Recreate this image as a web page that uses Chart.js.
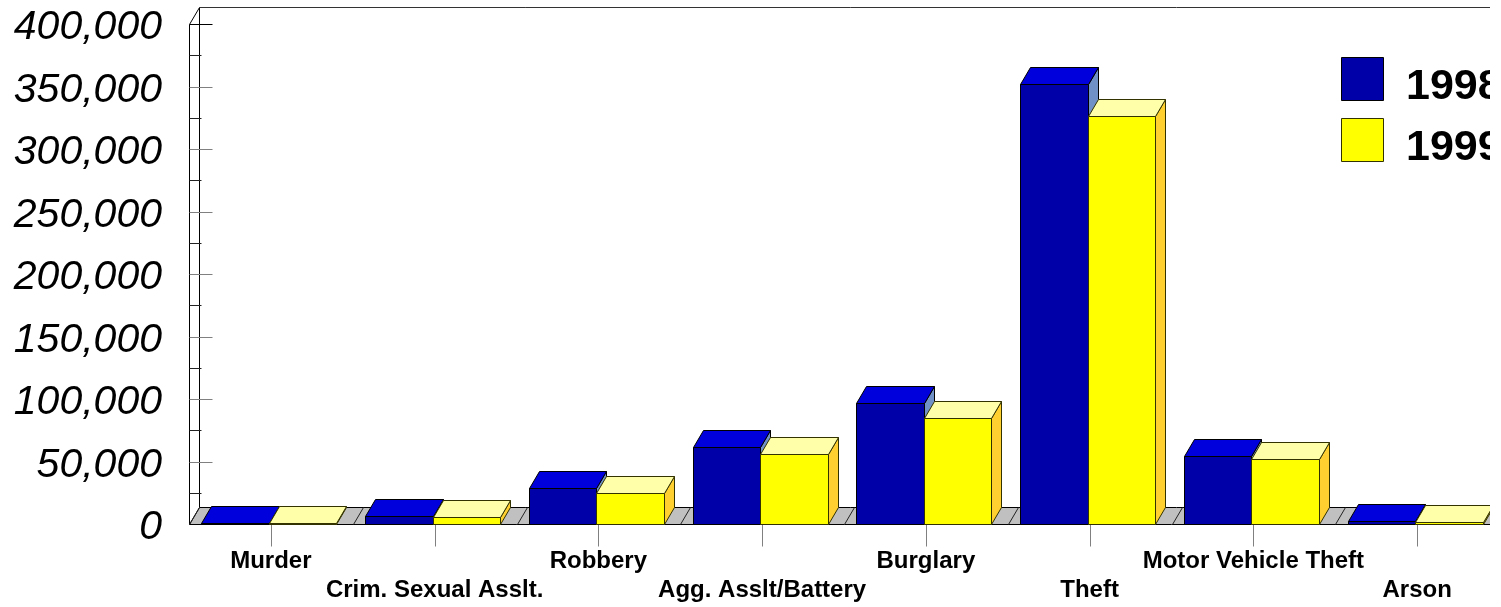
<!DOCTYPE html>
<html>
<head>
<meta charset="utf-8">
<script src="https://cdn.jsdelivr.net/npm/chart.js@4.4.0/dist/chart.umd.min.js"></script>
<style>
  html, body { margin: 0; padding: 0; background: #fff; }
  #wrap { width: 1490px; height: 607px; overflow: hidden; }
  canvas { display: block; }
</style>
</head>
<body>
<div id="wrap"><canvas id="crimeChart" width="1501" height="607"></canvas></div>
<script>
// data
const categories = ['Murder', 'Crim. Sexual Asslt.', 'Robbery', 'Agg. Asslt/Battery', 'Burglary', 'Theft', 'Motor Vehicle Theft', 'Arson'];
const years = ['1998', '1999'];
const values1998 = [1000, 6300, 28600, 61900, 96500, 352000, 54400, 2600];
const values1999 = [900, 5600, 25000, 56000, 84500, 326700, 52000, 1800];
const yTicks = [0, 50000, 100000, 150000, 200000, 250000, 300000, 350000, 400000];

const FONT = '"Liberation Sans", Arial, sans-serif';
const DX = 10, DY = 17;   // depth of the fake 3d
const SHIFT = -2;         // bars sit a little left of the tick marks

const faces = [
  { front: '#0000A8', top: '#0000DD', side: '#7090C8', edge: '#000000' },
  { front: '#FFFF00', top: '#FFFFAA', side: '#FFD030', edge: '#333300' }
];

function poly(ctx, pts, fill, stroke) {
  ctx.beginPath();
  ctx.moveTo(pts[0][0], pts[0][1]);
  for (let i = 1; i < pts.length; i++) ctx.lineTo(pts[i][0], pts[i][1]);
  ctx.closePath();
  if (fill) { ctx.fillStyle = fill; ctx.fill(); }
  if (stroke) { ctx.strokeStyle = stroke; ctx.stroke(); }
}

function line(ctx, x1, y1, x2, y2, color) {
  ctx.beginPath();
  ctx.moveTo(x1, y1);
  ctx.lineTo(x2, y2);
  ctx.strokeStyle = color;
  ctx.stroke();
}

const box3d = {
  id: 'box3d',
  afterDatasetsDraw(chart) {
    const ctx = chart.ctx;
    const { left, right, top } = chart.chartArea;
    const xs = chart.scales.x, ys = chart.scales.y;
    const base = Math.round(ys.getPixelForValue(0)) + 0.5;
    const L = Math.round(left) + 0.5;
    const T = Math.round(top) + 0.5;
    ctx.save();
    ctx.lineWidth = 1;

    // wall
    line(ctx, L, T, L, base, '#000');
    line(ctx, L + DX, T - DY, L + DX, base - DY, '#000');
    line(ctx, L, T, L + DX, T - DY, '#000');
    line(ctx, L + DX, T - DY, right + DX, T - DY, '#333');

    // y ticks, major + minor
    for (let i = 1; i < yTicks.length; i++) {
      const y = Math.round(ys.getPixelForValue(yTicks[i])) + 0.5;
      line(ctx, L, y, L + 23, y, i === yTicks.length - 1 ? '#000' : '#808080');
      const ym = Math.round(ys.getPixelForValue((yTicks[i] + yTicks[i - 1]) / 2)) + 0.5;
      line(ctx, L, ym, L + 12, ym, '#222');
    }

    // floor
    poly(ctx, [[L, base], [right, base], [right + DX, base - DY], [L + DX, base - DY]], '#C0C0C0', '#000');
    const step = (right - left) / categories.length;
    for (let k = 0; k <= categories.length; k++) {
      const x = Math.round(left + k * step) + 0.5;
      line(ctx, x, base, x + DX, base - DY, '#222');
    }

    // x ticks
    categories.forEach((c, i) => {
      const x = Math.round(xs.getPixelForValue(i)) + 0.5;
      line(ctx, x, base, x, base + 22, '#808080');
    });

    // bars, per category so the 1999 box hides the side of the 1998 one
    categories.forEach((c, i) => {
      chart.data.datasets.forEach((ds, d) => {
        const el = chart.getDatasetMeta(d).data[i];
        const f = faces[d];
        const x0 = Math.round(el.x - el.width / 2 + SHIFT) + 0.5;
        const x1 = Math.round(el.x + el.width / 2 + SHIFT) + 0.5;
        const y0 = Math.round(el.y) + 0.5;
        poly(ctx, [[x1, y0], [x1 + DX, y0 - DY], [x1 + DX, base - DY], [x1, base]], f.side, f.edge);
        poly(ctx, [[x0, y0], [x1, y0], [x1 + DX, y0 - DY], [x0 + DX, y0 - DY]], f.top, f.edge);
        poly(ctx, [[x0, y0], [x1, y0], [x1, base], [x0, base]], f.front, f.edge);
      });
    });

    // legend
    ctx.font = 'bold 43px ' + FONT;
    ctx.textBaseline = 'alphabetic';
    ctx.textAlign = 'left';
    const legendY = [57, 118];
    years.forEach((yr, d) => {
      poly(ctx, [[1341.5, legendY[d] + 0.5], [1383.5, legendY[d] + 0.5], [1383.5, legendY[d] + 43.5], [1341.5, legendY[d] + 43.5]], faces[d].front, faces[d].edge);
      ctx.fillStyle = '#000';
      ctx.fillText(yr, 1406, legendY[d] + 42);
    });

    ctx.restore();
  }
};

new Chart(document.getElementById('crimeChart'), {
  type: 'bar',
  data: {
    labels: categories,
    datasets: [
      { label: years[0], data: values1998, backgroundColor: 'rgba(0,0,0,0)', borderWidth: 0 },
      { label: years[1], data: values1999, backgroundColor: 'rgba(0,0,0,0)', borderWidth: 0 }
    ]
  },
  options: {
    responsive: false,
    animation: false,
    devicePixelRatio: 1,
    layout: { padding: { top: 24, right: 2, left: 0, bottom: 0 } },
    datasets: { bar: { categoryPercentage: 0.825, barPercentage: 1 } },
    plugins: { legend: { display: false }, tooltip: { enabled: false } },
    scales: {
      x: {
        grid: { display: false, drawTicks: false },
        border: { display: false },
        ticks: {
          autoSkip: false,
          maxRotation: 0,
          minRotation: 0,
          padding: 23,
          color: '#000',
          font: { family: FONT, size: 24, weight: 'bold', lineHeight: '29px' },
          callback: (v, i) => (i % 2 ? ['', categories[i]] : categories[i])
        },
        afterFit: s => { s.height = 83; s.paddingLeft = 0; s.paddingRight = 0; }
      },
      y: {
        min: 0,
        max: 400000,
        grid: { display: false, drawTicks: false },
        border: { display: false },
        afterBuildTicks: s => { s.ticks = yTicks.map(v => ({ value: v })); },
        ticks: {
          padding: 27,
          labelOffset: 4,
          color: '#000',
          font: { family: FONT, size: 41, style: 'italic', lineHeight: 1 },
          callback: v => v.toLocaleString('en-US')
        },
        afterFit: s => { s.width = 189; s.paddingTop = 0; s.paddingBottom = 0; }
      }
    }
  },
  plugins: [box3d]
});
</script>
</body>
</html>
